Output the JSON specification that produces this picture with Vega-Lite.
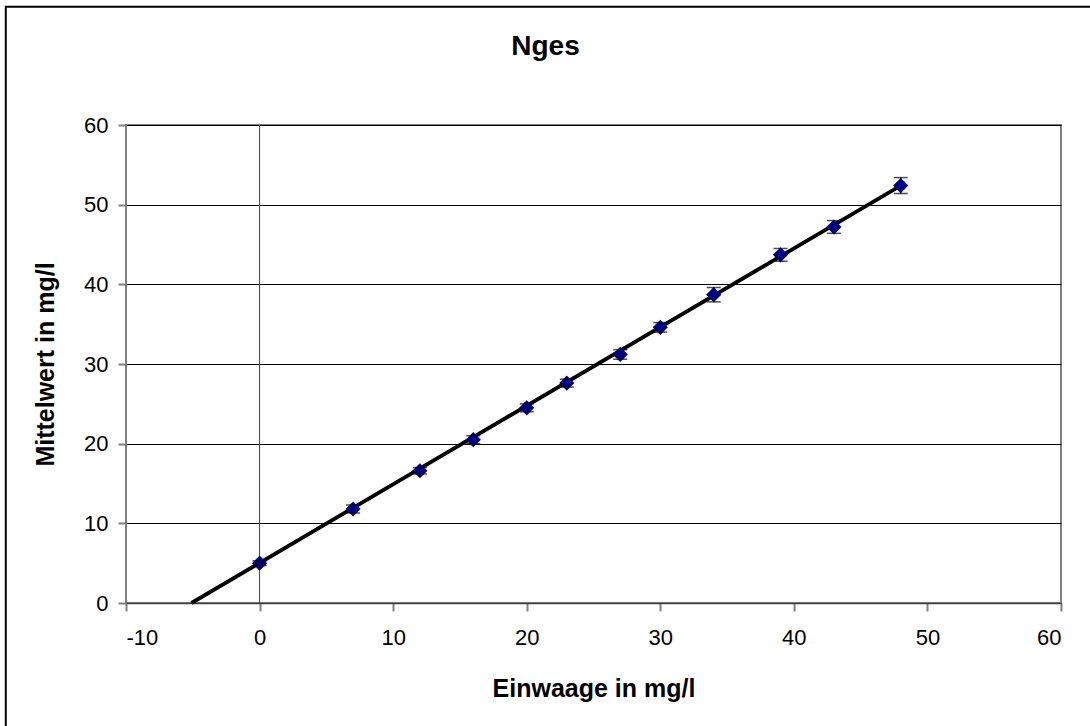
{
  "$schema": "https://vega.github.io/schema/vega-lite/v6.json",
  "width": 935,
  "height": 478,
  "autosize": "none",
  "padding": {"left": 126, "top": 125, "right": 29, "bottom": 123},
  "background": "white",
  "config": {
    "font": "Liberation Sans",
    "view": {"stroke": "#808080", "strokeWidth": 2},
    "axis": {"labelFont": "Liberation Sans", "titleFont": "Liberation Sans"}
  },
  "title": {
    "text": "Nges",
    "font": "Liberation Sans",
    "fontSize": 28,
    "fontWeight": "bold",
    "color": "black",
    "anchor": "middle",
    "frame": "group",
    "dx": -48,
    "baseline": "alphabetic",
    "offset": -77
  },
  "datasets": {
    "messung": [
      {"einwaage": 0, "mittelwert": 5.0, "lo": 4.7, "hi": 5.3},
      {"einwaage": 7, "mittelwert": 11.8, "lo": 11.3, "hi": 12.3},
      {"einwaage": 12, "mittelwert": 16.6, "lo": 16.2, "hi": 17.0},
      {"einwaage": 16, "mittelwert": 20.5, "lo": 20.0, "hi": 21.0},
      {"einwaage": 20, "mittelwert": 24.5, "lo": 24.0, "hi": 25.0},
      {"einwaage": 23, "mittelwert": 27.6, "lo": 27.1, "hi": 28.1},
      {"einwaage": 27, "mittelwert": 31.2, "lo": 30.6, "hi": 31.8},
      {"einwaage": 30, "mittelwert": 34.6, "lo": 34.0, "hi": 35.2},
      {"einwaage": 34, "mittelwert": 38.7, "lo": 37.8, "hi": 39.6},
      {"einwaage": 39, "mittelwert": 43.7, "lo": 42.9, "hi": 44.5},
      {"einwaage": 43, "mittelwert": 47.2, "lo": 46.4, "hi": 48.0},
      {"einwaage": 48, "mittelwert": 52.4, "lo": 51.4, "hi": 53.4}
    ],
    "trend": [
      {"einwaage": -5.1, "mittelwert": 0},
      {"einwaage": 48, "mittelwert": 52.4}
    ],
    "achse": [
      {"einwaage": 0, "unten": 0, "oben": 60}
    ]
  },
  "layer": [
    {
      "data": {"name": "achse"},
      "mark": {"type": "rule", "color": "#404040", "strokeWidth": 1},
      "encoding": {
        "x": {
          "field": "einwaage",
          "type": "quantitative",
          "scale": {"domain": [-10, 60], "nice": false, "zero": false},
          "axis": {
            "title": "Einwaage in mg/l",
            "values": [-10, 0, 10, 20, 30, 40, 50, 60],
            "labelExpr": "'' + datum.value",
            "grid": false,
            "domainColor": "#404040",
            "domainWidth": 1.5,
            "tickColor": "#808080",
            "tickWidth": 2,
            "tickSize": 8,
            "labelFontSize": 22,
            "labelColor": "black",
            "labelPadding": 16,
            "titleFontSize": 25,
            "titleFontWeight": "bold",
            "titleColor": "black",
            "titlePadding": 28
          }
        },
        "y": {
          "field": "unten",
          "type": "quantitative",
          "scale": {"domain": [0, 60], "nice": false},
          "axis": {
            "title": "Mittelwert in mg/l",
            "values": [0, 10, 20, 30, 40, 50, 60],
            "grid": true,
            "gridColor": "black",
            "gridOpacity": 1,
            "gridWidth": 1,
            "domain": false,
            "tickColor": "#808080",
            "tickWidth": 2,
            "tickSize": 8,
            "labelFontSize": 22,
            "labelColor": "black",
            "labelPadding": 10,
            "titleFontSize": 25,
            "titleFontWeight": "bold",
            "titleColor": "black",
            "titlePadding": 25
          }
        },
        "y2": {"field": "oben"}
      }
    },
    {
      "data": {"name": "trend"},
      "mark": {"type": "line", "color": "black", "strokeWidth": 3.8},
      "encoding": {
        "x": {"field": "einwaage", "type": "quantitative"},
        "y": {"field": "mittelwert", "type": "quantitative"}
      }
    },
    {
      "data": {"name": "messung"},
      "mark": {"type": "rule", "color": "black", "strokeWidth": 1.5},
      "encoding": {
        "x": {"field": "einwaage", "type": "quantitative"},
        "y": {"field": "lo", "type": "quantitative"},
        "y2": {"field": "hi"}
      }
    },
    {
      "data": {"name": "messung"},
      "mark": {"type": "point", "shape": "diamond", "filled": true, "color": "#000080", "opacity": 1, "size": 230},
      "encoding": {
        "x": {"field": "einwaage", "type": "quantitative"},
        "y": {"field": "mittelwert", "type": "quantitative"}
      }
    },
    {
      "data": {"name": "messung"},
      "mark": {"type": "tick", "orient": "horizontal", "color": "black", "size": 14, "thickness": 1.5},
      "encoding": {
        "x": {"field": "einwaage", "type": "quantitative"},
        "y": {"field": "lo", "type": "quantitative"}
      }
    },
    {
      "data": {"name": "messung"},
      "mark": {"type": "tick", "orient": "horizontal", "color": "black", "size": 14, "thickness": 1.5},
      "encoding": {
        "x": {"field": "einwaage", "type": "quantitative"},
        "y": {"field": "hi", "type": "quantitative"}
      }
    },
    {
      "data": {"values": [{"a": 1}]},
      "mark": {"type": "rect", "filled": false, "fill": null, "stroke": "black", "strokeWidth": 2, "clip": false},
      "encoding": {
        "x": {"datum": -19},
        "x2": {"datum": 71},
        "y": {"datum": 74.85},
        "y2": {"datum": -20}
      }
    }
  ]
}
